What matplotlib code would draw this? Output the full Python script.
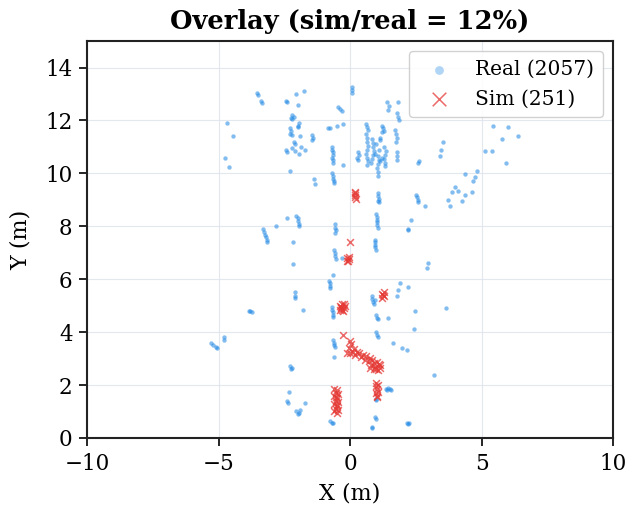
import matplotlib
matplotlib.use("Agg")
import matplotlib.pyplot as plt

# Point counts reported in the legend
n_real = 2057
n_sim = 251

# Real detections (x, y) in metres
real_x = [
    -3.55, -3.5, -3.4, -3.35, -4.7, -4.45, -4.75, -4.6, -2.05, -1.75, -2.45, -2.0, -2.4,
    -2.2, -2.15, -2.25, -2.2, -2.3, -2.25, -2.3, -2.2, -1.95, -2.0, -1.9, -2.0,
    -2.15, -2.1, -2.2, -2.1, -2.4, -2.45, -1.95, -1.7, -1.85, -1.45, -1.4, -1.45,
    -2.3, -1.38, -1.35,
    -0.85, -0.75, -0.5, -0.27, -0.46, -0.38, -0.3,
    -0.68, -0.7, -0.67, -0.65, -0.68, -0.66, -0.64, -0.27,
    -0.68, -0.66, -0.65, -0.63, -0.62,
    0.08, 0.08, 0.08,
    0.3, 0.32, 0.28, 0.3,
    0.62, 0.65, 0.68, 0.62, 0.66, 0.64, 0.67, 0.65, 0.62, 0.66, 0.68, 0.65,
    0.85, 0.88, 0.86, 0.9, 0.87, 0.85,
    1.05, 1.08, 1.05, 1.02, 1.06, 1.05,
    1.2, 1.25, 1.3, 1.22, 1.12, 1.15,
    1.3, 1.35, 1.32, 1.3, 1.34, 1.33,
    1.0, 1.1, 0.95, 1.2, 0.8, 1.15,
    1.42, 1.46, 1.44, 1.82, 1.8, 1.82, 1.84,
    1.72, 1.75, 1.77, 1.76, 1.78, 1.8, 1.77,
    2.62, 2.6, 3.54, 3.45, 3.42,
    5.44, 6.0, 5.78, 6.39, 5.13, 5.4, 5.93,
    4.37, 4.83, 4.68, 4.75, 3.99, 4.1, 3.88, 4.37, 4.64, 3.73, 4.26, 3.8,
    1.05, 1.06, 1.08, 1.05, 1.1,
    1.0, 1.02, 1.03, 1.04, 1.02, 1.05,
    0.93, 0.95, 0.96, 0.94, 0.97,
    2.52, 2.55, 2.57, 2.6, 2.85, 2.32, 2.2, 2.22,
    -2.05, -2.0, -1.98, -1.96, -1.95, -2.82, -2.4,
    -3.3, -3.27, -3.23, -3.2, -3.17, -3.15,
    -2.17, -2.17, -2.1, -2.08, -2.1, -1.79,
    -3.85, -3.75, -3.8, -5.3, -5.2, -5.1, -5.05, -4.8, -4.78,
    -2.28, -2.22, -2.25, -2.32, -2.4, -2.38,
    -2.05, -1.95, -1.9, -2.0, -1.71,
    -0.58, -0.57, -0.55, -0.56, -0.6, -0.58, -0.57, -0.55, -0.3,
    -0.8, -0.78, -0.76, -0.75, -0.65,
    -0.7, -0.68, -0.67, -0.66, -0.65,
    -0.65, -0.62, -0.6, -0.58, -0.61,
    -0.75, -0.7, -0.65,
    0.82, 0.85, 0.88, 0.9, 0.95,
    1.0, 1.03, 1.06, 1.44,
    1.0, 1.03, 1.05,
    1.4, 1.5, 1.45, 1.55, 1.35,
    0.99, 0.97, 0.95, 0.99, 0.84, 0.82,
    2.15, 2.22, 2.25,
    2.97, 2.93, 1.9, 1.82, 2.2, 1.78,
    2.47, 3.65, 2.43, 1.63, 1.98, 2.17, 3.2,
]
real_y = [
    13.05, 12.95, 12.75, 12.65, 11.9, 11.4, 10.6, 10.25, 13.0, 13.1, 12.75, 12.6, 12.7,
    12.2, 12.15, 12.1, 12.05, 11.7, 11.6, 11.5, 11.45, 11.9, 11.75, 11.4, 11.8,
    11.2, 11.1, 10.95, 10.85, 10.8, 10.9, 10.75, 10.9, 11.0, 11.45, 11.35, 11.25,
    10.1, 9.8, 9.6,
    11.7, 11.7, 11.78, 11.86, 12.5, 12.42, 12.35,
    11.0, 10.9, 10.8, 10.7, 10.6, 10.5, 10.4, 10.3,
    10.0, 9.9, 9.8, 9.7, 9.62,
    13.28, 13.15, 13.05,
    10.8, 10.7, 10.6, 10.5,
    11.85, 11.75, 11.65, 11.5, 11.35, 11.2, 11.05, 10.9, 10.75, 10.6, 10.45, 10.3,
    11.3, 11.15, 11.0, 10.85, 10.7, 10.55,
    10.65, 10.5, 10.35, 10.2, 10.05, 9.92,
    11.8, 11.7, 11.6, 11.55, 11.35, 11.25,
    11.0, 10.85, 10.7, 10.55, 10.4, 10.28,
    11.1, 10.9, 10.75, 10.6, 10.4, 10.45,
    12.7, 12.55, 12.4, 12.7, 12.3, 12.15, 12.0,
    11.65, 11.5, 11.35, 11.2, 10.8, 10.65, 10.5,
    10.45, 10.4, 11.17, 10.9, 10.64,
    11.78, 11.74, 11.29, 11.4, 10.83, 10.83, 10.38,
    9.96, 10.08, 9.7, 9.85, 9.5, 9.32, 9.28, 9.2, 9.28, 9.0, 8.94, 8.75,
    9.25, 9.15, 9.05, 8.95, 8.9,
    8.45, 8.35, 8.25, 8.15, 8.05, 7.95,
    7.5, 7.4, 7.3, 7.2, 7.12,
    9.2, 9.1, 9.0, 8.9, 8.75, 8.24, 7.9, 7.85,
    8.4, 8.3, 8.2, 8.1, 8.0, 8.0, 8.33,
    7.88, 7.78, 7.68, 7.58, 7.48, 7.4,
    7.39, 6.59, 5.5, 5.38, 5.3, 4.85,
    4.78, 4.76, 4.8, 3.6, 3.52, 3.45, 3.4, 3.8, 3.72,
    2.72, 2.65, 2.6, 1.75, 1.4, 1.32,
    1.0, 0.95, 1.05, 0.9, 1.32,
    8.07, 7.95, 7.85, 7.75, 7.12, 7.0, 6.88, 6.75, 6.82,
    5.95, 5.85, 5.75, 5.68, 6.17,
    4.95, 4.85, 4.75, 4.65, 4.58,
    3.7, 3.6, 3.5, 3.45, 3.05,
    0.65, 0.58, 0.55,
    5.35, 5.25, 5.15, 5.05, 5.2,
    4.65, 4.55, 4.5, 4.55,
    4.0, 3.9, 3.8,
    1.82, 1.85, 1.9, 1.8, 1.86,
    1.48, 1.42, 0.8, 0.72, 0.42, 0.36,
    0.55, 0.53, 0.57,
    6.63, 6.44, 5.87, 5.6, 5.72, 5.35,
    4.8, 4.92, 4.13, 3.6, 3.41, 3.33, 2.39,
]

# Simulated detections (x, y) in metres
sim_x = [
    0.18, 0.2, 0.17, 0.22, 0.2,
    0.0,
    -0.1, -0.05, -0.08, -0.03, -0.1,
    -0.4, -0.35, -0.3, -0.25, -0.2, -0.38, -0.28, -0.33, -0.22, -0.3,
    1.2, 1.25, 1.3, 1.22, 1.28,
    -0.27, 0.0, 0.05, -0.05, 0.15,
    -0.12, 0.0, 0.1, 0.27, 0.2, 0.35, 0.49, 0.4, 0.6, 0.55, 0.76, 0.7, 0.85,
    0.9, 0.8, 0.95, 1.03, 1.1, 1.14, 1.0, 1.05, 0.76, 1.12, 0.9,
    1.0, 1.05, 0.98, 1.03, 1.06, 1.0, 1.04, 1.02,
    -0.6, -0.5, -0.55, -0.45, -0.6, -0.5, -0.55, -0.45, -0.6, -0.5, -0.55,
    -0.45, -0.6, -0.5, -0.55, -0.5,
]
sim_y = [
    9.3, 9.2, 9.1, 9.05, 9.25,
    7.42,
    6.8, 6.75, 6.7, 6.85, 6.7,
    5.0, 4.95, 5.05, 4.9, 5.0, 4.85, 4.8, 4.9, 5.05, 4.85,
    5.45, 5.4, 5.35, 5.3, 5.5,
    3.9, 3.65, 3.55, 3.4, 3.35,
    3.22, 3.2, 3.25, 3.26, 3.15, 3.2, 3.14, 3.05, 3.1, 2.95, 3.03, 2.9, 2.95,
    2.85, 2.75, 2.7, 2.88, 2.8, 2.77, 2.6, 2.55, 2.65, 2.65, 2.6,
    2.08, 2.0, 1.95, 1.85, 1.75, 1.7, 1.6, 1.55,
    1.85, 1.8, 1.7, 1.65, 1.6, 1.5, 1.4, 1.35, 1.3, 1.2, 1.1,
    1.05, 1.0, 0.95, 1.55, 1.25,
]

x_ticks = [-10, -5, 0, 5, 10]
y_ticks = [0, 2, 4, 6, 8, 10, 12, 14]

plt.rcParams["font.family"] = ["DejaVu Serif"]

fig = plt.figure(figsize=(6.32, 5.14), dpi=100)
ax = fig.add_axes([0.138, 0.148, 0.832, 0.772])

ax.scatter(real_x, real_y, s=10, color="#1E88E5", alpha=0.55, linewidths=0,
           label=f"Real ({n_real})", zorder=2)
ax.scatter(sim_x, sim_y, s=24, marker="x", color="#E53935", alpha=0.75,
           linewidths=1.1, label=f"Sim ({n_sim})", zorder=3)

ax.set_xlim(-10, 10)
ax.set_ylim(0, 15)
ax.set_xticks(x_ticks)
ax.set_yticks(y_ticks)
ax.tick_params(labelsize=15.5, length=6, width=1.2, pad=4.5)
ax.grid(True, color="#dde3ea", linewidth=0.8, alpha=0.8)
ax.set_axisbelow(True)
for sp in ax.spines.values():
    sp.set_linewidth(1.5)
    sp.set_color("#222222")

ax.set_xlabel("X (m)", fontsize=16, labelpad=6)
ax.set_ylabel("Y (m)", fontsize=16, labelpad=10)
ratio = round(100 * n_sim / n_real)
ax.set_title(f"Overlay (sim/real = {ratio}%)", fontsize=18.5, fontweight="bold", pad=9)

leg = ax.legend(loc="upper right", fontsize=14.5, markerscale=2.0, frameon=True,
                framealpha=0.9, edgecolor="#cccccc", borderpad=0.45,
                handlelength=2.0, handletextpad=0.8, borderaxespad=0.5)
for h in leg.legend_handles[:1]:
    h.set_alpha(0.35)

fig.savefig("out.png", dpi=100)
